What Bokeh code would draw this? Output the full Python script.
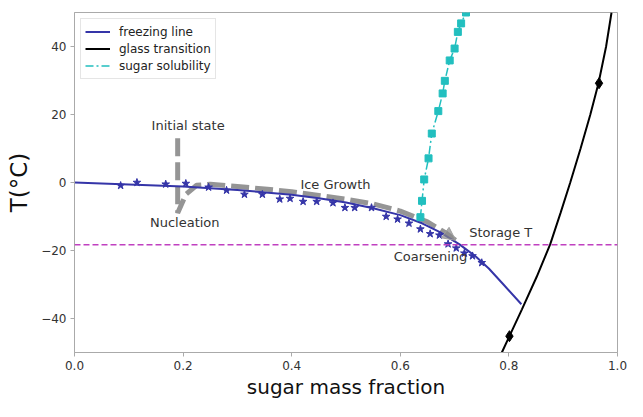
from bokeh.plotting import figure
from bokeh.models import Label, Span, Arrow, NormalHead, Legend, LegendItem
from bokeh.embed import file_html
from bokeh.resources import INLINE

# freezing line (model curve)
freeze_x = [0.0, 0.1, 0.2, 0.3, 0.4, 0.45, 0.5, 0.55, 0.6, 0.64, 0.673, 0.709, 0.74, 0.763, 0.79, 0.823]
freeze_T = [0.0, -0.6, -1.2, -2.2, -3.6, -4.6, -5.9, -7.6, -9.6, -12.0, -14.6, -18.2, -21.9, -25.3, -30.0, -35.8]

# freezing point data (stars)
star_x = [0.085, 0.115, 0.168, 0.205, 0.247, 0.280, 0.313, 0.346, 0.378, 0.397, 0.421, 0.446, 0.476,
          0.498, 0.516, 0.547, 0.574, 0.595, 0.616, 0.637, 0.655, 0.672, 0.688, 0.703, 0.718, 0.733, 0.750]
star_T = [-0.9, 0.0, -0.5, -0.3, -1.4, -2.3, -3.5, -3.5, -4.9, -4.7, -5.6, -5.6, -6.0,
          -7.4, -7.4, -7.4, -10.0, -10.8, -12.0, -13.7, -15.1, -15.5, -18.1, -19.3, -20.8, -21.6, -23.6]

# glass transition curve and data points
glass_x = [0.787, 0.801, 0.824, 0.851, 0.876, 0.895, 0.913, 0.932, 0.950, 0.965, 0.979, 0.989]
glass_T = [-50.0, -45.2, -37.3, -27.8, -18.2, -9.0, 0.0, 10.0, 20.0, 29.2, 40.0, 50.0]
glass_pts_x = [0.801, 0.966]
glass_pts_T = [-45.2, 29.2]

# sugar solubility
sol_x = [0.637, 0.640, 0.644, 0.652, 0.658, 0.670, 0.678, 0.682, 0.691, 0.700, 0.706, 0.712, 0.721]
sol_T = [-10.2, -5.4, 0.9, 7.1, 14.4, 21.0, 26.2, 29.9, 35.9, 39.4, 44.3, 46.8, 50.0]

# process path (initial state -> nucleation -> ice growth)
path_x = [0.19, 0.19, 0.205, 0.225, 0.25, 0.3, 0.35, 0.4, 0.45, 0.5, 0.55, 0.6, 0.65, 0.685, 0.702]
path_T = [13.0, -9.0, -3.5, -0.8, -0.5, -1.2, -1.9, -2.7, -3.8, -4.9, -6.3, -8.4, -11.6, -15.0, -17.0]

storage_T = -18.3

annot_text = ["Initial state", "Nucleation", "Ice Growth", "Storage T", "Coarsening"]
annot_x = [0.142, 0.139, 0.416, 0.727, 0.588]
annot_T = [16.9, -11.9, -0.5, -14.8, -21.9]

x_ticks = [0.0, 0.2, 0.4, 0.6, 0.8, 1.0]
y_ticks = [-40, -20, 0, 20, 40]

BLUE = "#3535a8"
CYAN = "#22bfbf"
MAGENTA = "#c040c0"
GRAY = "#8a8a8a"
FONT = "DejaVu Sans"
SPINE = "#aaaaaa"

p = figure(width=627, height=401, x_range=(0, 1), y_range=(-50, 50),
           output_backend="svg", toolbar_location=None,
           min_border_left=74, min_border_right=10, min_border_top=12, min_border_bottom=10)

p.grid.visible = False
p.outline_line_color = SPINE
p.background_fill_color = "white"
p.border_fill_color = "white"

for ax in (p.xaxis[0], p.yaxis[0]):
    ax.axis_line_color = SPINE
    ax.major_tick_line_color = SPINE
    ax.minor_tick_line_color = None
    ax.major_tick_out = 4
    ax.major_tick_in = 0
    ax.major_label_text_font = FONT
    ax.major_label_text_font_size = "12px"
    ax.major_label_text_color = "#333333"
    ax.major_label_standoff = 4

p.xaxis.ticker = x_ticks
p.yaxis.ticker = y_ticks
p.xaxis.major_label_overrides = {v: f"{v:.1f}" for v in x_ticks}
p.yaxis.major_label_overrides = {v: (f"\u2212{abs(v)}" if v < 0 else f"{v}") for v in y_ticks}

p.yaxis.axis_label = "T(\u00b0C)"
p.yaxis.axis_label_text_font = FONT
p.yaxis.axis_label_text_font_size = "23px"
p.yaxis.axis_label_text_font_style = "normal"
p.yaxis.axis_label_text_color = "#111111"
p.yaxis.axis_label_standoff = 6

p.xaxis.axis_label = "sugar mass fraction"
p.xaxis.axis_label_text_font = FONT
p.xaxis.axis_label_text_font_size = "20px"
p.xaxis.axis_label_text_font_style = "normal"
p.xaxis.axis_label_text_color = "#111111"
p.xaxis.axis_label_standoff = 2

# storage temperature line
p.add_layout(Span(location=storage_T, dimension="width", line_color=MAGENTA,
                  line_dash="6 3", line_width=1.5))

# process path
p.line(path_x, path_T, line_color=GRAY, line_width=5, line_dash="18 6", line_alpha=0.9)
p.add_layout(Arrow(end=NormalHead(size=13, fill_color=GRAY, fill_alpha=0.7, line_color="#a0a0a0"),
                   x_start=path_x[-2], y_start=path_T[-2], x_end=path_x[-1], y_end=path_T[-1],
                   line_alpha=0))

r_freeze = p.line(freeze_x, freeze_T, line_color=BLUE, line_width=2)
p.scatter(star_x, star_T, marker="star", size=8, color=BLUE)

r_glass = p.line(glass_x, glass_T, line_color="black", line_width=2)
p.scatter(glass_pts_x, glass_pts_T, marker="diamond", size=11, color="black")

r_sol = p.line(sol_x, sol_T, line_color=CYAN, line_width=1.5, line_dash="8 3 2 3")
p.scatter(sol_x, sol_T, marker="square", size=7, color=CYAN)

for t, x, y in zip(annot_text, annot_x, annot_T):
    p.add_layout(Label(x=x, y=y, text=t, text_font=FONT, text_font_size="13px",
                       text_color="#333333", text_align="left", text_baseline="middle"))

legend = Legend(items=[LegendItem(label="freezing line", renderers=[r_freeze]),
                       LegendItem(label="glass transition", renderers=[r_glass]),
                       LegendItem(label="sugar solubility", renderers=[r_sol])],
                location="top_left")
legend.label_text_font = FONT
legend.label_text_font_size = "12px"
legend.label_text_color = "#222222"
legend.glyph_width = 25
legend.glyph_height = 17
legend.label_height = 17
legend.label_standoff = 9
legend.spacing = 0
legend.padding = 4
legend.margin = 6
legend.border_line_color = "#cccccc"
legend.background_fill_alpha = 0.85
p.add_layout(legend)

open("out.html", "w").write(file_html(p, INLINE))
